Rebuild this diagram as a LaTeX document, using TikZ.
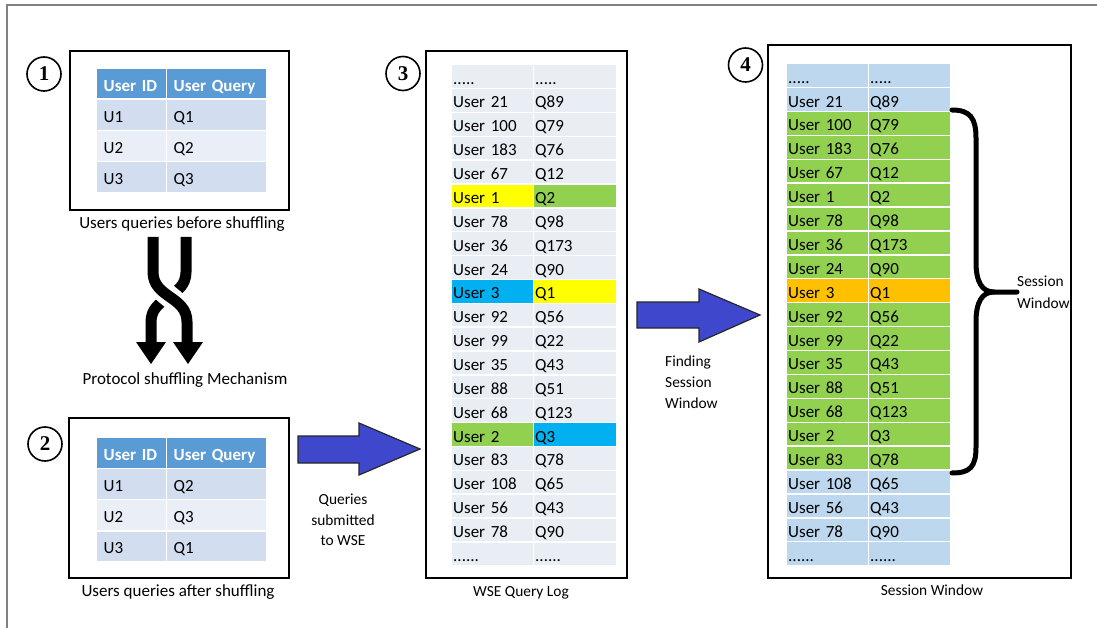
\documentclass[tikz,border=0pt]{standalone}
\usepackage{fontspec}
\setmainfont{Carlito}
\newfontfamily\numfont{Liberation Serif}
\newcommand\myfivedots{.....}
\newcommand\mysixdots{......}
\definecolor{hdr}{HTML}{5B9BD5}
\definecolor{bandA}{HTML}{D2DEEF}
\definecolor{bandB}{HTML}{EAEFF7}
\definecolor{lg}{HTML}{E9EDF4}
\definecolor{lb}{HTML}{BDD7EE}
\definecolor{gr}{HTML}{92D050}
\definecolor{ye}{HTML}{FFFF00}
\definecolor{cy}{HTML}{00B0F0}
\definecolor{orng}{HTML}{FFC000}
\definecolor{arrblue}{RGB}{63,72,204}
\definecolor{framegray}{HTML}{808080}
\tikzset{
  panel/.style={rectangle, draw=black, line width=2pt, inner sep=0pt},
  numcirc/.style={circle, draw=black, line width=1.6pt, minimum size=34pt, inner sep=0pt, font=\numfont\bfseries\fontsize{21}{21}\selectfont},
  tcell/.style={rectangle, draw=white, line width=1.4pt, anchor=north west, inner ysep=0pt, inner xsep=1.5pt, text height=15pt, text depth=0pt, align=left, font=\fontsize{17}{20}\selectfont},
  scell/.style={tcell, inner xsep=7pt, minimum height=31pt},
  hcell/.style={scell, fill=hdr, text=white, font=\bfseries\fontsize{17}{20}\selectfont},
  caption/.style={anchor=base, inner sep=0pt, font=\fontsize{17}{20}\selectfont},
  smallcap/.style={anchor=base, inner sep=0pt, font=\fontsize{15.4}{18}\selectfont},
  blockarrow/.style={fill=arrblue, draw=black!85, line width=1.2pt, line join=miter},
  strand/.style={line width=11pt, black},
  strandgap/.style={line width=22pt, white},
  bracepath/.style={line width=5pt, black, line cap=round}
}
\begin{document}
\begin{tikzpicture}[x=1pt,y=-1pt]
\useasboundingbox (0,0) rectangle (1097,628);
\fill[white] (0,0) rectangle (1097,628);
% outer gray frame
\draw[framegray, line width=2pt] (7,628) -- (7,5) -- (1097,5);

% ---------- panel 1 ----------
\node[panel, minimum width=219pt, minimum height=159pt] (box1) at (179.5,130.5) {};
\node[numcirc] (n1) at (44,74) {1};
\node[hcell, text width=56pt] (h1a) at (96,67.5) {User ID};
\node[hcell, text width=86pt] (h1b) at (166,67.5) {User Query};
\foreach \u/\q/\c [count=\i] in {U1/Q1/bandA, U2/Q2/bandB, U3/Q3/bandA} {
  \node[scell, fill=\c, text width=56pt] (r1a\i) at (96,{67.5+\i*31.2}) {\u};
  \node[scell, fill=\c, text width=86pt] (r1b\i) at (166,{67.5+\i*31.2}) {\q};
}
\node[caption] (cap1) at (182,229) {Users queries before shuffling};

% ---------- shuffle arrows ----------
\draw[strand] (186,237) -- (186,272) .. controls (186,298) and (151,296) .. (151,322) -- (151,343);
\fill (136,342) -- (166,342) -- (151,364) -- cycle;
\draw[strandgap] (153,268) .. controls (153,298) and (187,296) .. (187,326);
\draw[strand] (153,237) -- (153,272) .. controls (153,298) and (187,296) .. (187,322) -- (187,343);
\fill (173,342) -- (203,342) -- (188,364) -- cycle;
\node[caption] (capmech) at (185,384) {Protocol shuffling Mechanism};

% ---------- panel 2 ----------
\node[panel, minimum width=220pt, minimum height=160pt] (box2) at (179,498) {};
\node[numcirc] (n2) at (45,444) {2};
\node[hcell, text width=56pt] (h2a) at (96,436.5) {User ID};
\node[hcell, text width=86pt] (h2b) at (166,436.5) {User Query};
\foreach \u/\q/\c [count=\i] in {U1/Q2/bandA, U2/Q3/bandB, U3/Q1/bandA} {
  \node[scell, fill=\c, text width=56pt] (r2a\i) at (96,{436.5+\i*31.2}) {\u};
  \node[scell, fill=\c, text width=86pt] (r2b\i) at (166,{436.5+\i*31.2}) {\q};
}
\node[caption] (cap2) at (178,596) {Users queries after shuffling};

% ---------- arrow 1 ----------
\draw[blockarrow] (298,436) -- (359,436) -- (359,423) -- (420,449) -- (359,475) -- (359,463) -- (298,463) -- cycle;
\node[smallcap] (q1) at (343,504) {Queries};
\node[smallcap] (q2) at (343,525) {submitted};
\node[smallcap] (q3) at (343,545) {to WSE};

% ---------- panel 3 ----------
\node[panel, minimum width=201pt, minimum height=527pt] (box3) at (526.5,314.5) {};
\node[numcirc] (n3) at (403,73.5) {3};
\foreach \u/\q/\cu/\cq [count=\i from 0] in {
  \myfivedots/\myfivedots/lg/lg, User 21/Q89/lg/lg, User 100/Q79/lg/lg, User 183/Q76/lg/lg,
  User 67/Q12/lg/lg, User 1/Q2/ye/gr, User 78/Q98/lg/lg, User 36/Q173/lg/lg,
  User 24/Q90/lg/lg, User 3/Q1/cy/ye, User 92/Q56/lg/lg, User 99/Q22/lg/lg,
  User 35/Q43/lg/lg, User 88/Q51/lg/lg, User 68/Q123/lg/lg, User 2/Q3/gr/cy,
  User 83/Q78/lg/lg, User 108/Q65/lg/lg, User 56/Q43/lg/lg, User 78/Q90/lg/lg,
  \mysixdots/\mysixdots/lg/lg} {
  \node[tcell, fill=\cu, text width=79pt, minimum height=23.86pt] (ta\i) at (451,{64+\i*23.86}) {\u};
  \node[tcell, fill=\cq, text width=80pt, minimum height=23.86pt] (tb\i) at (533,{64+\i*23.86}) {\q};
}
\node[smallcap] (cap3) at (521,596) {WSE Query Log};

% ---------- arrow 2 ----------
\draw[blockarrow] (637,302) -- (699,302) -- (699,289) -- (760,315) -- (699,342) -- (699,328) -- (637,328) -- cycle;
\node[smallcap, anchor=base west] (f1) at (665,366) {Finding};
\node[smallcap, anchor=base west] (f2) at (665,387) {Session};
\node[smallcap, anchor=base west] (f3) at (665,408) {Window};

% ---------- panel 4 ----------
\node[panel, minimum width=303pt, minimum height=533pt] (box4) at (919.5,311.5) {};
\node[numcirc] (n4) at (745.5,65) {4};
\foreach \u/\q/\c [count=\i from 0] in {
  \myfivedots/\myfivedots/lb, User 21/Q89/lb, User 100/Q79/gr, User 183/Q76/gr,
  User 67/Q12/gr, User 1/Q2/gr, User 78/Q98/gr, User 36/Q173/gr,
  User 24/Q90/gr, User 3/Q1/orng, User 92/Q56/gr, User 99/Q22/gr,
  User 35/Q43/gr, User 88/Q51/gr, User 68/Q123/gr, User 2/Q3/gr,
  User 83/Q78/gr, User 108/Q65/lb, User 56/Q43/lb, User 78/Q90/lb,
  \mysixdots/\mysixdots/lb} {
  \node[tcell, fill=\c, text width=79pt, minimum height=23.9pt] (sa\i) at (786,{63+\i*23.9}) {\u};
  \node[tcell, fill=\c, text width=79pt, minimum height=23.9pt] (sb\i) at (868,{63+\i*23.9}) {\q};
}
% brace
\draw[bracepath] (952,110) .. controls (970,110) and (976,118) .. (976,138) -- (976,262)
  .. controls (976,282) and (982,292) .. (994,292) -- (1017,292);
\draw[bracepath] (994,292) .. controls (982,292) and (976,302) .. (976,322) -- (976,447)
  .. controls (976,467) and (970,473) .. (952,473);
\node[smallcap, anchor=base west] (sw1) at (1017,287) {Session};
\node[smallcap, anchor=base west] (sw2) at (1017,308) {Window};
\node[smallcap] (cap4) at (932,595) {Session Window};
\end{tikzpicture}
\end{document}
